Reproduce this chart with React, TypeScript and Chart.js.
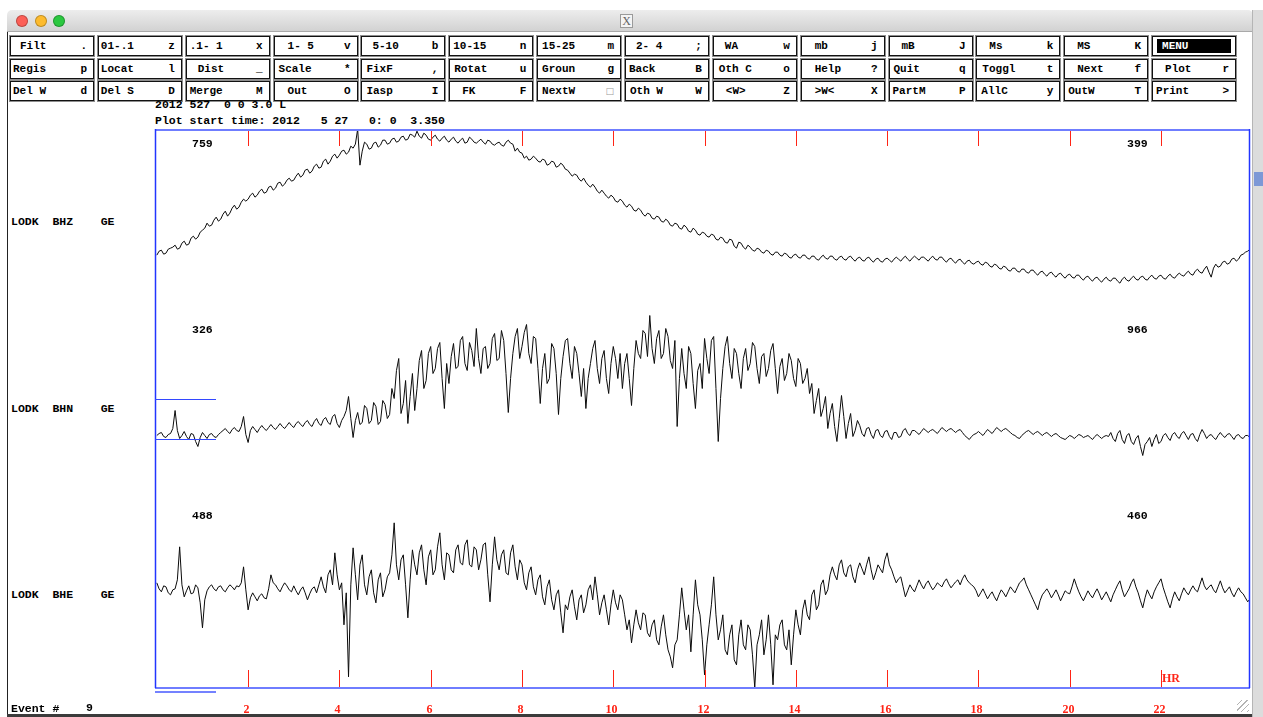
import React, { useEffect, useRef } from "react";
import { Chart, registerables } from "chart.js";

Chart.register(...registerables);

// ---------------- data ----------------
const sampleStepHours = 0.05;

const bhzCounts = [
  -33, -29, -28, -32, -31, -27, -26, -25, -23, -27, -26, -21, -19, -23, -22, -16, -14, -17, -15, -10,
  -8, -6, -1, -4, -3, 2, 5, 1, 3, 8, 11, 6, 9, 14, 17, 13, 15, 20, 23, 21,
  23, 27, 29, 25, 27, 31, 33, 29, 30, 35, 36, 32, 34, 39, 40, 36, 38, 42, 44, 41,
  42, 46, 49, 45, 47, 52, 53, 49, 51, 56, 58, 54, 55, 61, 63, 58, 61, 66, 68, 64,
  67, 71, 72, 68, 70, 76, 74, 78, 93, 57, 71, 80, 78, 73, 74, 79, 80, 75, 77, 82,
  82, 78, 79, 83, 84, 80, 81, 85, 86, 82, 83, 88, 87, 85, 91, 86, 84, 89, 87, 83,
  82, 85, 87, 83, 81, 84, 86, 82, 80, 83, 85, 81, 79, 82, 84, 79, 80, 85, 83, 80,
  79, 81, 83, 80, 78, 82, 81, 78, 77, 79, 80, 77, 76, 80, 82, 79, 78, 71, 74, 70,
  69, 64, 66, 62, 63, 66, 64, 61, 60, 63, 62, 57, 58, 61, 60, 55, 56, 59, 57, 53,
  52, 49, 46, 48, 47, 43, 41, 44, 40, 37, 35, 38, 35, 31, 29, 32, 29, 26, 24, 27,
  25, 21, 20, 23, 21, 17, 15, 18, 16, 12, 11, 14, 12, 8, 6, 9, 8, 4, 3, 6,
  5, 1, 0, 3, 1, -3, -4, -1, -2, -6, -7, -3, -5, -9, -10, -6, -8, -12, -13, -10,
  -11, -14, -15, -12, -13, -17, -18, -15, -16, -20, -21, -17, -18, -24, -26, -20, -21, -25, -27, -23,
  -25, -28, -29, -26, -27, -30, -31, -28, -29, -32, -33, -30, -30, -33, -34, -31, -32, -35, -36, -33,
  -32, -35, -36, -33, -33, -36, -37, -34, -34, -37, -38, -35, -33, -36, -37, -34, -34, -37, -38, -35,
  -34, -37, -38, -35, -34, -37, -39, -36, -35, -38, -39, -36, -35, -38, -40, -37, -36, -39, -40, -37,
  -36, -38, -40, -37, -35, -37, -39, -36, -34, -37, -39, -36, -34, -36, -38, -35, -35, -37, -39, -36,
  -34, -37, -38, -35, -35, -38, -40, -37, -36, -39, -41, -38, -37, -40, -42, -39, -38, -41, -42, -40,
  -39, -42, -43, -40, -41, -44, -45, -42, -43, -46, -47, -44, -45, -48, -49, -46, -46, -49, -50, -47,
  -47, -50, -51, -48, -48, -51, -53, -50, -49, -52, -54, -51, -50, -53, -55, -52, -51, -54, -56, -53,
  -52, -55, -56, -53, -53, -56, -58, -55, -54, -57, -59, -56, -55, -58, -60, -57, -55, -58, -59, -56,
  -56, -59, -61, -57, -55, -58, -59, -56, -54, -57, -58, -55, -54, -57, -58, -55, -53, -56, -57, -54,
  -53, -56, -57, -54, -52, -55, -56, -53, -51, -53, -54, -51, -49, -52, -53, -49, -47, -50, -51, -47,
  -44, -50, -55, -46, -42, -45, -44, -40, -39, -42, -41, -37, -36, -39, -37, -33, -32, -30, -29, -27,
];

const bhnCounts = [
  -27, -25, -24, -28, -29, -26, -25, -20, -2, -22, -30, -27, -23, -28, -31, -25, -26, -33, -38, -29,
  -24, -27, -30, -26, -25, -28, -29, -26,
  -24, -22, -20, -23, -25, -21, -19, -22, -23, -18, -8, -26, -34, -22, -18, -21, -24, -20, -17, -20,
  -22, -19, -16, -19, -21, -18, -15, -18, -20, -17, -14, -17, -19, -15, -13, -16, -18, -14, -12, -16,
  -18, -13, -10, -15, -17, -11, -9, -14, -16, -8, -6, -15, -19, -12, -8, -2,
  12, -10, -29, -12,
  -4, -16, -14, 3, 0, -15, -12, 6, 2, -16, -13, 8, 4, -10, -6, 20,
  10, 38, 50, -5, 5, 28, -15, 12, 35, -2, 20, 48,
  58, 20, 28, 55, 62, 35, 40, 60, 66, 30, 0, 45, 25, 52,
  65, 40, 42, 68, 72, 45, 38, 66, 58, 42, 80, 50, 35, 60, 62, 40, 45, 70, 75, 48, 50, 78,
  68, 35, -4, 30, 55, 72,
  80, 50, 62, 76, 84, 55, 45, 72, 70, 40,
  5, 40, 55, 25, 30, 65, 60, 35, -6, 30, 52, 68,
  70, 45, 30, 62, 55, 35, 12, 40, 0, 30,
  45, 60, 68, 40, 25, 50, 58, 30, 15, 45, 62, 50, 30, 55, 20, 45,
  55, 30, 3, 40, 68, 55,
  50, 78, 75, 52, 93, 60, 45, 70, 78, 50, 55, 80, 72, 48, 40, 68,
  -18, 30, 60, 35,
  20, 62, 55, 25, 0, 38, 45, 20,
  70, 50, 35, 68, 72, 20, -33, 10, 40, 62,
  72, 45, 30, 60, 55, 35, 20, 50, 60, 38, 45, 66, 62, 40, 25, 52, 55, 32, 40, 58,
  65, 40, 15, 42, 50, 28, 35, 55, 48, 30, 22, 50, 45, 25, 30, 40,
  15, 25, -5, 8, 20, -8, 0, 12,
  -20, -5, 5, -18, -33, -10, 13, -8, -30, -15, -5, -28, -22, -12,
  -17, -25, -28, -20, -19, -26, -30, -22, -21, -27, -29, -23, -22, -28, -31, -24, -24, -29, -28, -22,
  -20, -25, -27, -22,
  -22, -24, -26, -23, -20, -22, -24, -22, -21, -23, -25, -22, -19, -21, -23, -21, -20, -22, -24, -22,
  -21, -24, -27, -29, -31, -28, -26, -25, -23, -25, -27, -24, -21, -23, -25, -22, -19, -21, -23, -21,
  -20, -22, -24, -26, -27, -29, -30, -27, -25, -23, -22, -24, -26, -24, -23, -25, -27, -25, -24, -26,
  -28, -26, -25, -27, -29, -30, -31, -29, -27, -28, -30, -28, -26, -27, -29, -28, -27, -29, -31, -28,
  -26, -28, -30, -28, -27, -28,
  -24, -30, -33, -25, -22, -31, -35, -27, -25, -33, -36, -30, -27, -38, -47, -36, -33, -29, -38, -31,
  -26, -35, -33, -27,
  -25, -29, -32, -26, -24, -28, -30, -25, -23, -27, -31, -26, -25, -30, -33, -26, -21, -25, -30, -27,
  -26, -29, -31, -27, -24, -27, -29, -26, -25, -28, -31, -27, -26, -29, -30, -27, -27, -29,
];

const bheCounts = [
  12, 6, 3, 9, 8, 2, 0, 5, 6, 15, 48, 10, -2, 4, 9, 1, 2, 10, 7, -8,
  -33, -5, 4, 8,
  10, 6, 4, 8, 9, 5, 3, 7, 10, 8, 5, 9, 8, 12,
  28, 5, -15, -3, 2, -2,
  -6, -1, 1, -3, -4, 6,
  20, 12,
  10, 6, 3, 8, 12, 9, 5, 3, 9, 4, 0, 5, 8, 2, -5, 1, 6, 8, 2, 10,
  18, 8, 2, 20, 25, 10, 42, 20, 5, 12,
  -30, 2, -82, 10, 47, 20,
  -5, 30, 40, 10, 0, 18, 25, 2, -8, 15, 22, -2, 5, 18,
  22, 40, 72, 30, 15, 35, 40, 10, -23, 15, 45, 30, 20, 42,
  50, 25, 10, 38, 45, 20, 25, 48, 62, 30, 15, 42,
  40, 25, 22, 45, 50, 32, 30, 50, 55, 30, 28, 48, 45, 25, 35, 50, 52, 20, -7, 30,
  58, 35, 25, 40, 45, 22, 20, 42, 50, 28, 15, 35,
  30, 12, 5, 22, 28, 8, 0, 15, 20, -2, -10, 8, 15, -5, -15, 0, 5, -18, -38, -10,
  -15, -2, 5, -12, -25, -5, 0, -18, -10, 5, 10, -5, 18, 0, -20, -8, 0, -15, -30, -10,
  5, -8, -15, 0, -5, -20,
  -35, -25, -48, -30, -15, -28, -35, -18, -20, -38, -42, -30, -25, -45, -50, -32, -20, -40, -55, -62,
  -73, -50, -45, -20,
  7, -15, -35, -20, -57, -20, 15, -10, -20, -45,
  -80, -50, -30, -10, 18, -20, -45, -35, -20, -55, -60, -40, -30, -65, -70, -40, -25, -50, -55, -30,
  -35, -60, -93, -50, -40, -25, -60, -45,
  -20, -50, -90, -40, -45, -30, -25, -50, -55, -35, -70, -40,
  -15, -30, -40, -15, -5, -20, -25, 0, 5, -15, -10, 10, 15, 0, 5, 20,
  28, 20, 15, 30, 35, 22, 18, 28, 30, 18, 12, 25, 32, 26, 20, 30, 38, 25, 15, 22,
  30, 26, 22, 35, 42, 30,
  25, 18, 12, 16, 18, 8, -2, 4, 10, 6, 3, 9, 15, 10, 6, 11, 14, 9, 5, 8,
  12, 10, 8, 13, 16, 11, 7, 10, 13, 15, 10, 16, 20, 15, 12, 10, 8, 4,
  -2, 2, 6, 1, -4, 0, 3, -2, -6, 0, 5, 2, -2, 3, 8, 5, 2, 7, 12, 14,
  17, 10, 5, 0, -5, -10, -15, -6, 0, 3, 6, 2, -3, 1, 5, 0, -6, -1, 4, 2,
  1, 8, 16, 9, 3, -2, -6, -1, 4, 0, -3, 2, 6, 1, -5, -1, 3, -2, -7, 0,
  5, 10, 14, 5, -2, 2, 6, 12, 16, 8, 2, -6, -13, -3, 5, 0, -4, 3, 8, 12,
  16, 7, 0, -7, -13, -4, 3, -2, -6, 1, 7, 3, 0, 5, 9, 5, 3, 10, 17, 9,
  5, 8, 10, 5, 2, 8, 14, 7, 2, 5, 8, 2, -2, 3, 7, 3, 1, -3, -7, -4,
];

const hourTicks = [2, 4, 6, 8, 10, 12, 14, 16, 18, 20, 22];
const hourTickLabels = ["2", "4", "6", "8", "10", "12", "14", "16", "18", "20", "22"];

const stationNames = ["LODK", "LODK", "LODK"];
const componentNames = ["BHZ", "BHN", "BHE"];
const networkNames = ["GE", "GE", "GE"];
const leftAmplitudes = ["759", "326", "488"];
const rightAmplitudes = ["399", "966", "460"];

const menuRow1Labels = ["Filt", "01-.1", ".1- 1", "1- 5", "5-10", "10-15", "15-25", "2- 4", "WA", "mb", "mB", "Ms", "MS", "MENU"];
const menuRow1Keys = [".", "z", "x", "v", "b", "n", "m", ";", "w", "j", "J", "k", "K", ""];
const menuRow1Indent = [9, 2, 3, 13, 10, 3, 4, 10, 11, 13, 12, 12, 12, 0];

const menuRow2Labels = ["Regis", "Locat", "Dist", "Scale", "FixF", "Rotat", "Groun", "Back", "Oth C", "Help", "Quit", "Toggl", "Next", "Plot"];
const menuRow2Keys = ["p", "l", "_", "*", ",", "u", "g", "B", "o", "?", "q", "t", "f", "r"];
const menuRow2Indent = [2, 2, 11, 4, 4, 4, 4, 3, 5, 13, 4, 5, 12, 12];

const menuRow3Labels = ["Del W", "Del S", "Merge", "Out", "Iasp", "FK", "NextW", "Oth W", "<W>", ">W<", "PartM", "AllC", "OutW", "Print"];
const menuRow3Keys = ["d", "D", "M", "O", "I", "F", "\u25A1", "W", "Z", "X", "P", "y", "T", ">"];
const menuRow3Indent = [2, 2, 3, 13, 4, 12, 4, 4, 12, 13, 3, 4, 3, 3];

const headerLine1 = "2012 527  0 0 3.0 L";
const headerLine2 = "Plot start time: 2012   5 27   0: 0  3.350";
const eventNumber = "9";

// ---------------- layout ----------------
const W = 1263;
const H = 717;
const CANVAS_LEFT = 150;
const CANVAS_TOP = 125;
const CANVAS_W = 1105;
const CANVAS_H = 592;
const PLOT_TOP = 129;
const PLOT_BOTTOM = 688;
const Y_HALF = 279.5;
const BAND = (2 * Y_HALF) / 3;
const RED = "#ff2416";
const MONO = "'Liberation Mono', 'DejaVu Sans Mono', monospace";

const traceOffset = (k: number) => Y_HALF - BAND * (k + 0.5);

const framePlugin = {
  id: "seisFrame",
  afterDatasetsDraw(chart: any) {
    const { ctx, chartArea: a, scales } = chart;
    const xs = scales.x;
    ctx.save();
    ctx.lineWidth = 1;
    ctx.strokeStyle = RED;
    ctx.fillStyle = RED;
    ctx.font = "bold 12px 'Liberation Serif', serif";
    ctx.textAlign = "center";
    ctx.textBaseline = "middle";
    hourTicks.forEach((h, i) => {
      const px = Math.round(xs.getPixelForValue(h)) + 0.5;
      ctx.beginPath();
      ctx.moveTo(px, a.top);
      ctx.lineTo(px, a.top + 17);
      ctx.moveTo(px, a.bottom - 18);
      ctx.lineTo(px, a.bottom);
      ctx.stroke();
      ctx.fillText(hourTickLabels[i], px - 2, a.bottom + 22);
    });
    const last = Math.round(xs.getPixelForValue(hourTicks[hourTicks.length - 1]));
    ctx.textAlign = "left";
    ctx.fillText("HR", last + 1, a.bottom - 9);

    // frame
    ctx.strokeStyle = "#6f7dff";
    ctx.lineWidth = 2;
    ctx.beginPath();
    ctx.moveTo(a.left, a.top + 1);
    ctx.lineTo(a.right, a.top + 1);
    ctx.moveTo(a.left, a.bottom);
    ctx.lineTo(a.right, a.bottom);
    ctx.stroke();
    ctx.strokeStyle = "#2235ff";
    ctx.lineWidth = 1.5;
    ctx.beginPath();
    ctx.moveTo(a.left + 0.5, a.top);
    ctx.lineTo(a.left + 0.5, a.bottom);
    ctx.moveTo(a.right - 0.5, a.top);
    ctx.lineTo(a.right - 0.5, a.bottom);
    ctx.stroke();
    ctx.restore();
  },
};

function SeismoChart() {
  const ref = useRef<HTMLCanvasElement | null>(null);
  useEffect(() => {
    if (!ref.current) return;
    const series = [bhzCounts, bhnCounts, bheCounts];
    const chart = new Chart(ref.current, {
      type: "line",
      data: {
        datasets: series.map((vals, k) => ({
          label: componentNames[k],
          data: vals.map((v, i) => ({ x: i * sampleStepHours, y: v + traceOffset(k) })),
          borderColor: "#0a0a0a",
          borderWidth: 1,
          pointRadius: 0,
          tension: 0,
          fill: false,
        })),
      },
      options: {
        animation: false,
        responsive: false,
        maintainAspectRatio: false,
        events: [],
        layout: { padding: { left: 5, top: 4, right: 5, bottom: 29 } },
        plugins: { legend: { display: false }, tooltip: { enabled: false } },
        scales: {
          x: { type: "linear", min: -0.04, max: 23.95, display: false },
          y: { type: "linear", min: -Y_HALF, max: Y_HALF, display: false },
        },
      },
      plugins: [framePlugin],
    } as any);
    return () => chart.destroy();
  }, []);
  return (
    <canvas
      ref={ref}
      width={CANVAS_W}
      height={CANVAS_H}
      style={{ position: "absolute", left: CANVAS_LEFT, top: CANVAS_TOP, width: CANVAS_W, height: CANVAS_H }}
    />
  );
}

function Txt(props: { x: number; y: number; children: any; style?: any }) {
  return (
    <div
      style={{
        position: "absolute",
        left: props.x,
        top: props.y - 7,
        height: 14,
        lineHeight: "14px",
        whiteSpace: "pre",
        fontFamily: MONO,
        fontWeight: "bold",
        fontSize: 11.5,
        color: "#000",
        ...(props.style || {}),
      }}
    >
      {props.children}
    </div>
  );
}

function MenuButton(props: { x: number; y: number; label: string; keyChar: string; indent: number }) {
  const inverted = props.label === "MENU";
  const isBox = props.keyChar === "\u25A1";
  return (
    <div
      style={{
        position: "absolute",
        left: props.x,
        top: props.y,
        width: 84,
        height: 20,
        boxSizing: "border-box",
        border: "1px solid #111",
        outline: "1px solid #8e8e8e",
        background: "#fff",
        fontFamily: MONO,
        fontWeight: "bold",
        fontSize: 11,
        color: "#000",
      }}
    >
      {inverted ? (
        <div
          style={{
            position: "absolute",
            left: 4,
            top: 2,
            width: 74,
            height: 14,
            background: "#000",
            color: "#fff",
            lineHeight: "14px",
            paddingLeft: 5,
            boxSizing: "border-box",
          }}
        >
          {props.label}
        </div>
      ) : (
        <>
          <span style={{ position: "absolute", left: props.indent, top: 0, lineHeight: "18px", whiteSpace: "pre" }}>
            {props.label}
          </span>
          <span
            style={{
              position: "absolute",
              right: 6,
              top: 0,
              lineHeight: "18px",
              color: isBox ? "#999" : "#000",
              fontFamily: isBox ? "'DejaVu Sans', sans-serif" : MONO,
              fontSize: isBox ? 9 : 11,
            }}
          >
            {props.keyChar}
          </span>
        </>
      )}
    </div>
  );
}

export default function App() {
  const rows = [
    { labels: menuRow1Labels, keys: menuRow1Keys, indent: menuRow1Indent, top: 36 },
    { labels: menuRow2Labels, keys: menuRow2Keys, indent: menuRow2Indent, top: 58.5 },
    { labels: menuRow3Labels, keys: menuRow3Keys, indent: menuRow3Indent, top: 81 },
  ];
  const bandH = (PLOT_BOTTOM - PLOT_TOP) / 3;
  const bandCenters = [0, 1, 2].map((k) => PLOT_TOP + bandH * (k + 0.5));
  const bandTops = [0, 1, 2].map((k) => PLOT_TOP + bandH * k);
  return (
    <div
      style={{
        position: "fixed",
        left: 0,
        top: 0,
        width: W,
        height: H,
        background: "#fff",
        overflow: "hidden",
      }}
    >
      {/* window title bar */}
      <div
        style={{
          position: "absolute",
          left: 7,
          top: 10,
          width: 1246,
          height: 22,
          background: "linear-gradient(#ededed, #d2d2d2)",
          borderRadius: "5px 5px 0 0",
          borderBottom: "1px solid #a9a9a9",
          boxSizing: "border-box",
        }}
      />
      {["#fc5f57", "#fdbb2e", "#2bc840"].map((c, i) => (
        <div
          key={c}
          style={{
            position: "absolute",
            left: 16 + i * 18.5,
            top: 15,
            width: 12,
            height: 12,
            borderRadius: 6,
            background: c,
            boxShadow: "inset 0 0 0 1px rgba(0,0,0,0.25)",
          }}
        />
      ))}
      <div
        style={{
          position: "absolute",
          left: 620,
          top: 14,
          width: 13,
          height: 14,
          border: "1px solid #9a9a9a",
          background: "#f4f4f4",
          boxSizing: "border-box",
          fontFamily: "'Liberation Serif', serif",
          fontSize: 12,
          lineHeight: "12px",
          textAlign: "center",
          color: "#666",
        }}
      >
        X
      </div>

      {/* window side and bottom borders */}
      <div style={{ position: "absolute", left: 7, top: 32, width: 1, height: 682, background: "#222" }} />
      <div style={{ position: "absolute", left: 7, top: 714, width: 1246, height: 3, background: "#3b3b3b" }} />
      <div
        style={{
          position: "absolute",
          left: 1252,
          top: 10,
          width: 11,
          height: 707,
          background: "#dcdcdc",
          borderLeft: "1px solid #b5b5b5",
          boxSizing: "border-box",
        }}
      />
      <div style={{ position: "absolute", left: 1254, top: 172, width: 9, height: 14, background: "#7d98d6" }} />
      <div
        style={{
          position: "absolute",
          left: 1237,
          top: 700,
          width: 12,
          height: 12,
          background: "repeating-linear-gradient(135deg, transparent 0px, transparent 3px, #b3b3b3 3px, #b3b3b3 4px)",
        }}
      />

      {/* menu buttons */}
      {rows.map((r, ri) =>
        r.labels.map((lab, ci) => (
          <MenuButton
            key={ri + "-" + ci}
            x={10 + ci * 87.85}
            y={r.top}
            label={lab}
            keyChar={r.keys[ci]}
            indent={r.indent[ci]}
          />
        ))
      )}

      {/* header */}
      <Txt x={155} y={105}>{headerLine1}</Txt>
      <Txt x={155} y={121}>{headerLine2}</Txt>

      {/* chart */}
      <SeismoChart />

      {/* channel labels and amplitudes */}
      {bandCenters.map((cy, k) => (
        <Txt key={"lab" + k} x={11} y={cy}>
          {stationNames[k] + "  " + componentNames[k] + "    " + networkNames[k]}
        </Txt>
      ))}
      {bandTops.map((ty, k) => (
        <React.Fragment key={"amp" + k}>
          <Txt x={192} y={ty + 14.5}>{leftAmplitudes[k]}</Txt>
          <Txt x={1127} y={ty + 14.5}>{rightAmplitudes[k]}</Txt>
        </React.Fragment>
      ))}

      {/* blue markers */}
      <div style={{ position: "absolute", left: 155, top: 398.5, width: 61, height: 1, background: "#3348ff" }} />
      <div style={{ position: "absolute", left: 155, top: 438.5, width: 61, height: 1, background: "#3348ff" }} />
      <div style={{ position: "absolute", left: 155, top: 691, width: 61, height: 2, background: "#7482ff" }} />

      {/* event number */}
      <Txt x={11} y={709}>Event #</Txt>
      <Txt x={86} y={708}>{eventNumber}</Txt>
    </div>
  );
}
